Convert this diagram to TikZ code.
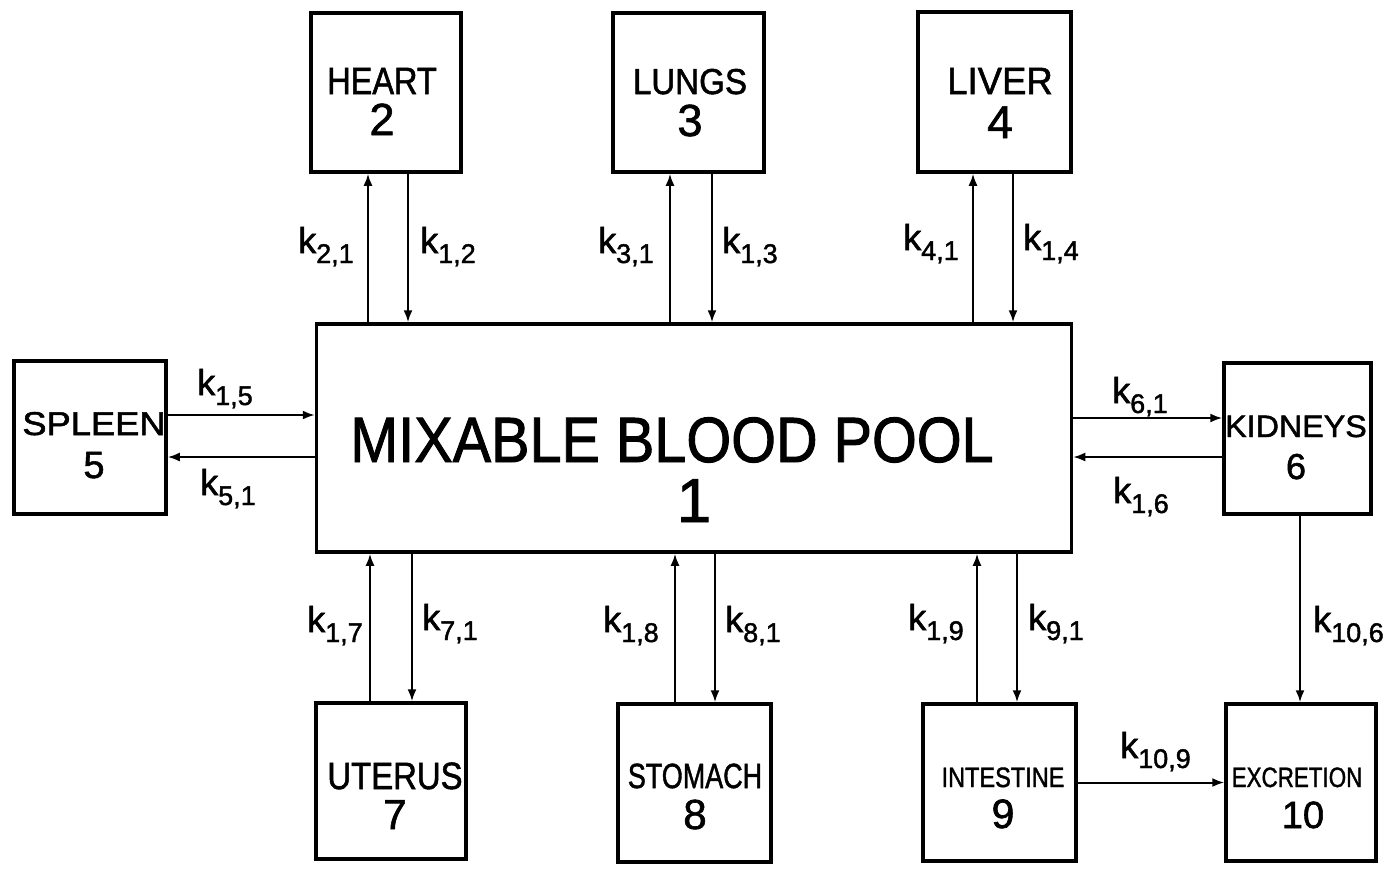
\documentclass[tikz,border=0pt]{standalone}
\usepackage{fontspec}
\setmainfont{Liberation Sans}[FakeBold=1.5]
\usepackage{graphicx}
\usetikzlibrary{arrows.meta}
\newcommand{\krate}[1]{k\raisebox{-10pt}{\fontsize{27}{27}\selectfont #1}}
\newcommand{\fs}[1]{\fontsize{#1}{#1}\selectfont}
\begin{document}
\begin{tikzpicture}[x=1pt,y=-1pt,
  box/.style={draw, line width=3.5pt, inner sep=0pt},
  arr/.style={line width=2pt, -{Latex[length=12pt,width=9pt]}},
  kl/.style={anchor=base west, inner sep=0pt, font=\fs{36}},
  word/.style={anchor=base, inner sep=0pt},
  num/.style={anchor=base, inner sep=0pt}]
\useasboundingbox[fill=white] (0,0) rectangle (1395,871);

% boxes
\node[box, minimum width=755pt, minimum height=228pt] (main) at (694,438) {};
\node[box, minimum width=150pt, minimum height=159pt] (heart) at (386,92.5) {};
\node[box, minimum width=151pt, minimum height=159pt] (lungs) at (688.5,92.5) {};
\node[box, minimum width=153pt, minimum height=160pt] (liver) at (994.5,92) {};
\node[box, minimum width=152pt, minimum height=153pt] (spleen) at (90,437.5) {};
\node[box, minimum width=147pt, minimum height=151pt] (kidneys) at (1297.5,438.5) {};
\node[box, minimum width=150pt, minimum height=156pt] (uterus) at (391,781) {};
\node[box, minimum width=153pt, minimum height=158pt] (stomach) at (694.5,783) {};
\node[box, minimum width=153pt, minimum height=157pt] (intestine) at (999.5,782.5) {};
\node[box, minimum width=150pt, minimum height=157pt] (excretion) at (1301,782.5) {};

% texts
\node[word, font=\fs{64}] (mainW) at (672,462) {\scalebox{0.9}[1]{MIXABLE BLOOD POOL}};
\node[num, font=\fs{62}] (mainN) at (694,522) {1};
\node[word, font=\fs{38}] (heartW) at (382,94) {\scalebox{0.855}[1]{HEART}};
\node[num, font=\fs{45}] (heartN) at (382,135) {2};
\node[word, font=\fs{36}] (lungsW) at (690,94) {\scalebox{0.92}[1]{LUNGS}};
\node[num, font=\fs{45}] (lungsN) at (690,136) {3};
\node[word, font=\fs{38}] (liverW) at (1000,94) {\scalebox{0.96}[1]{LIVER}};
\node[num, font=\fs{46}] (liverN) at (1000,138) {4};
\node[word, font=\fs{33}] (spleenW) at (94,435) {\scalebox{1.1}[1]{SPLEEN}};
\node[num, font=\fs{38}] (spleenN) at (94,478) {5};
\node[word, font=\fs{31}] (kidneysW) at (1296,437) {\scalebox{1.04}[1]{KIDNEYS}};
\node[num, font=\fs{36}] (kidneysN) at (1296,479) {6};
\node[word, font=\fs{38}] (uterusW) at (395,789) {\scalebox{0.865}[1]{UTERUS}};
\node[num, font=\fs{42}] (uterusN) at (395,829) {7};
\node[word, font=\fs{35}] (stomachW) at (695,788) {\scalebox{0.77}[1]{STOMACH}};
\node[num, font=\fs{42}] (stomachN) at (695,829) {8};
\node[word, font=\fs{28}] (intestineW) at (1003,787) {\scalebox{0.84}[1]{INTESTINE}};
\node[num, font=\fs{41}] (intestineN) at (1003,828) {9};
\node[word, font=\fs{28}] (excretionW) at (1297,787) {\scalebox{0.8}[1]{EXCRETION}};
\node[num, font=\fs{38}] (excretionN) at (1303,828) {10};

% vertical connectors, top
\coordinate (h1) at ([xshift=-18pt]heart.south);
\coordinate (h2) at ([xshift=22pt]heart.south);
\draw[arr] (h1 |- main.north) -- (h1);
\draw[arr] (h2) -- (h2 |- main.north);
\coordinate (l1) at ([xshift=-18.5pt]lungs.south);
\coordinate (l2) at ([xshift=23.5pt]lungs.south);
\draw[arr] (l1 |- main.north) -- (l1);
\draw[arr] (l2) -- (l2 |- main.north);
\coordinate (v1) at ([xshift=-21.5pt]liver.south);
\coordinate (v2) at ([xshift=18.5pt]liver.south);
\draw[arr] (v1 |- main.north) -- (v1);
\draw[arr] (v2) -- (v2 |- main.north);

% vertical connectors, bottom
\coordinate (u1) at ([xshift=-21pt]uterus.north);
\coordinate (u2) at ([xshift=21pt]uterus.north);
\draw[arr] (u1) -- (u1 |- main.south);
\draw[arr] (u2 |- main.south) -- (u2);
\coordinate (s1) at ([xshift=-19.5pt]stomach.north);
\coordinate (s2) at ([xshift=20.5pt]stomach.north);
\draw[arr] (s1) -- (s1 |- main.south);
\draw[arr] (s2 |- main.south) -- (s2);
\coordinate (i1) at ([xshift=-22.5pt]intestine.north);
\coordinate (i2) at ([xshift=17.5pt]intestine.north);
\draw[arr] (i1) -- (i1 |- main.south);
\draw[arr] (i2 |- main.south) -- (i2);

% horizontal connectors
\coordinate (p1) at ([yshift=22.5pt]spleen.east);
\coordinate (p2) at ([yshift=-19.5pt]spleen.east);
\draw[arr] (p1) -- (p1 -| main.west);
\draw[arr] (p2 -| main.west) -- (p2);
\coordinate (d1) at ([yshift=20.5pt]kidneys.west);
\coordinate (d2) at ([yshift=-18.5pt]kidneys.west);
\draw[arr] (d1 -| main.east) -- (d1);
\draw[arr] (d2) -- (d2 -| main.east);

% excretion
\coordinate (e1) at ([xshift=2.5pt]kidneys.south);
\draw[arr] (e1) -- (e1 |- excretion.north);
\draw[arr] (intestine.east) -- (intestine.east -| excretion.west);

% rate labels
\node[kl] (k21) at (298,253) {\krate{2,1}};
\node[kl] (k12) at (420,253) {\krate{1,2}};
\node[kl] (k31) at (598,253) {\krate{3,1}};
\node[kl] (k13) at (722,253) {\krate{1,3}};
\node[kl] (k41) at (903,250) {\krate{4,1}};
\node[kl] (k14) at (1023,250) {\krate{1,4}};
\node[kl] (k15) at (197,395) {\krate{1,5}};
\node[kl] (k51) at (200,495) {\krate{5,1}};
\node[kl] (k61) at (1112,403) {\krate{6,1}};
\node[kl] (k16) at (1113,503) {\krate{1,6}};
\node[kl] (k17) at (307,632) {\krate{1,7}};
\node[kl] (k71) at (422,630) {\krate{7,1}};
\node[kl] (k18) at (603,632) {\krate{1,8}};
\node[kl] (k81) at (725,632) {\krate{8,1}};
\node[kl] (k19) at (908,630) {\krate{1,9}};
\node[kl] (k91) at (1028,630) {\krate{9,1}};
\node[kl] (k106) at (1313,632) {\krate{10,6}};
\node[kl] (k109) at (1120,758) {\krate{10,9}};
\end{tikzpicture}
\end{document}
